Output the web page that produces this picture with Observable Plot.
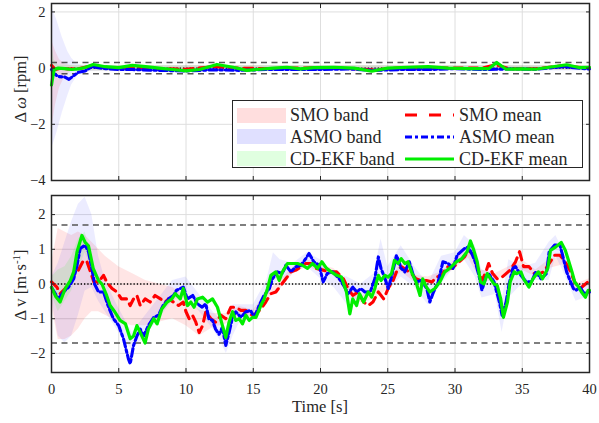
<!DOCTYPE html>
<html><head><meta charset="utf-8">
<script src="https://cdn.jsdelivr.net/npm/d3@7"></script>
<script src="https://cdn.jsdelivr.net/npm/@observablehq/plot@0.6"></script>
<style>
body{margin:0;background:#fff;}
#chart{position:relative;width:599px;height:423px;font-family:"Liberation Serif","Times New Roman","DejaVu Serif",serif;color:#262626;overflow:hidden;}
#chart svg{font-family:"Liberation Serif","Times New Roman","DejaVu Serif",serif !important;font-size:14.5px !important;}
#chart svg text{font-family:"Liberation Serif","Times New Roman","DejaVu Serif",serif !important;}
.pl{position:absolute;left:0;}
.axlab{position:absolute;white-space:nowrap;font-size:16.5px;line-height:18px;transform:translate(-50%,-50%);}
.axlab.rot{transform:translate(-50%,-50%) rotate(-90deg);}
.axlab sup{font-size:11px;vertical-align:6px;line-height:0;}
.legend{position:absolute;left:232px;top:100px;width:349px;height:66px;border:1.4px solid #262626;background:#fff;font-size:18px;}
.legend .it{position:absolute;white-space:nowrap;line-height:18px;}
.legend .sw{position:absolute;width:49px;height:15px;}
.legend svg{position:absolute;}
</style></head>
<body><div id="chart"></div>
<script>
// ---------- data ----------
const xTicks = [0,5,10,15,20,25,30,35,40];
const wTicks = [-4,-2,0,2];
const vTicks = [-2,-1,0,1,2];
const wThresh = [-0.2, 0.2];
const vThresh = [-1.7, 1.7];
const xLabel = "Time [s]";
const wLabel = {delta: "Δ ", sym: "ω", unit: " [rpm]"};
const vLabel = {delta: "Δ ", sym: "v", unit: " [m·s", sup: "-1", close: "]"};

// top panel: speed error (rpm)
const wSmoT = [0,0.3,0.7,1.2,2,3,4,6,8,10,12,14,16,18,20,22,24,26,28,30,32,33,34,36,38,40];
const wSmoV = [0.1,-0.05,0,-0.03,-0.02,0.08,0.02,0.02,-0.02,-0.04,0.05,0,-0.02,0,0.01,-0.01,-0.06,0.01,0.02,0,0,0.12,-0.02,-0.02,0.08,0];
const wAsmoT = [0,0.2,0.5,1.0,1.3,1.7,2.0,2.5,3,4,5,6,8,10,12,14,16,18,20,22,24,26,28,30,32,34,36,38,40];
const wAsmoV = [-0.05,-0.2,-0.3,-0.32,-0.4,-0.25,-0.15,-0.1,0.05,-0.02,-0.05,-0.05,-0.08,-0.1,-0.06,-0.08,-0.05,-0.05,-0.05,-0.03,-0.08,-0.05,-0.05,-0.02,-0.05,-0.03,-0.04,0.05,-0.03];
const wCdT = [0,0.1,0.2,0.5,1,1.5,2,2.5,3.1,4,5,6,7,8,9,10,11,12.3,13.5,14.5,15.5,16.5,17.5,18.5,19.5,21,22.5,23.8,25,26.5,28,29.5,31,32.5,33.1,33.8,35,36,37,38.3,39.2,40];
const wCdV = [-0.6,-0.3,-0.05,0,-0.02,-0.05,-0.03,0.02,0.13,0.05,0.02,0.1,0.05,0,-0.05,-0.1,-0.05,0.13,0.03,-0.08,-0.04,0,0.03,-0.03,0.02,0.03,0,-0.11,0,0.03,0.05,0,-0.02,-0.02,0.2,-0.04,-0.03,-0.04,0.03,0.12,0.02,0.03];
const wSmoBandT = [0,0.3,0.6,1.0,1.5,40];
const wSmoBandLo = [-2.2,-1.3,-0.7,-0.3,-0.1,-0.08];
const wSmoBandHi = [1.0,0.6,0.3,0.15,0.08,0.08];
const wAsmoBandT = [0,0.4,0.8,1.2,1.5,1.9,2.3,3,4,40];
const wAsmoBandLo = [-2.9,-2.3,-1.6,-1.0,-0.6,-0.3,-0.15,-0.12,-0.1,-0.1];
const wAsmoBandHi = [2.2,1.7,1.1,0.6,0.35,0.15,0.1,0.1,0.08,0.08];
const wCdBandT = [0,0.2,0.5,40];
const wCdBandLo = [-0.9,-0.3,-0.1,-0.08];
const wCdBandHi = [0.9,0.3,0.1,0.08];

// bottom panel: velocity error (m/s)
const vSmoT = [0,0.4,0.64,1.02,1.4,1.65,2.0,2.38,2.64,2.9,3.15,3.5,3.87,4.1,4.5,4.87,5.2,5.6,5.85,6.1,6.35,6.6,6.96,7.33,7.7,8.1,8.45,8.7,9.07,9.45,9.8,10.0,10.24,10.48,10.73,10.98,11.23,11.47,11.85,12.2,12.6,12.96,13.33,13.7,14.08,14.45,14.8,15.2,15.56,15.93,16.3,16.68,17.05,17.42,17.8,18.17,18.55,18.9,19.3,19.66,20.2,20.7,21.2,21.7,22.05,22.4,22.8,23.2,23.55,23.9,24.3,24.7,25.03,25.4,25.65,26.0,26.4,26.76,27.1,27.5,27.88,28.3,28.63,29.0,29.4,29.78,30.16,30.7,31.0,31.4,31.78,32.0,32.3,32.5,32.8,33.14,33.5,33.8,34.1,34.5,34.8,35.1,35.5,35.9,36.3,36.6,37.0,37.4,37.8,38.2,38.6,38.9,39.3,39.7,40];
const vSmoV = [0.06,-0.09,-0.28,-0.13,0.06,0.25,0.4,0.68,0.64,0.35,0.06,0.06,0.25,0.06,-0.13,-0.23,-0.43,-0.43,-0.62,-0.43,-0.33,-0.62,-0.43,-0.52,-0.33,-0.43,-0.52,-0.43,-0.52,-0.62,-0.52,-0.8,-1.0,-0.9,-1.1,-1.4,-1.2,-0.8,-1.0,-1.1,-0.9,-1.0,-0.67,-0.67,-0.76,-0.76,-0.9,-0.86,-0.72,-0.52,-0.28,-0.23,-0.04,0.15,0.35,0.4,0.5,0.59,0.59,0.45,0.4,0.35,0.35,0.15,-0.13,-0.33,-0.23,-0.52,-0.62,-0.52,-0.23,-0.43,-0.13,0.1,0.35,0.5,0.4,0.3,0.15,0.1,0.1,0.06,0.2,0.25,0.5,0.45,0.59,0.78,0.97,0.83,0.35,0.1,0.35,0.59,0.3,0.15,0.2,0.3,0.4,0.64,0.93,0.5,0.5,0.3,0.3,0.35,0.59,0.83,0.83,0.64,0.35,0.06,-0.13,0,0.1];
const vAsmoT = [0,0.52,0.9,1.27,1.65,1.9,2.13,2.5,2.75,3.0,3.2,3.5,3.87,4.2,4.6,5.0,5.35,5.72,5.85,6.1,6.35,6.6,6.84,7.2,7.6,7.95,8.3,8.7,9.07,9.3,9.57,9.8,10.1,10.5,10.85,11.2,11.47,11.7,11.97,12.2,12.46,12.7,12.96,13.2,13.46,13.7,14.08,14.45,14.8,15.07,15.44,15.8,16.2,16.43,16.8,17.17,17.42,17.8,18.17,18.55,18.9,19.15,19.5,19.9,20.2,20.5,20.9,21.4,21.8,22.05,22.4,22.7,23.0,23.3,23.7,24.04,24.3,24.5,24.8,25.03,25.28,25.65,26.0,26.27,26.6,26.9,27.1,27.5,27.9,28.13,28.4,28.75,29.1,29.5,29.85,30.16,30.7,31.0,31.3,31.5,31.78,32.0,32.3,32.5,32.9,33.3,33.5,33.8,34.0,34.3,34.5,34.9,35.3,35.7,36.0,36.4,36.8,37.0,37.4,37.8,38.0,38.3,38.5,38.8,39.0,39.3,39.6,39.8,40];
const vAsmoV = [-0.1,-0.43,-0.23,-0.09,0.15,0.54,1.02,1.12,0.93,0.45,0,-0.23,-0.23,-0.62,-1.0,-1.2,-1.58,-2.16,-2.3,-1.77,-1.5,-1.3,-1.5,-1.2,-0.96,-0.9,-0.62,-0.43,-0.33,-0.18,-0.13,-0.09,-0.43,-0.33,-0.57,-0.67,-0.57,-1.0,-1.05,-1.3,-1.45,-1.25,-1.77,-1.4,-0.96,-0.8,-0.96,-0.8,-0.76,-0.96,-0.62,-0.33,-0.13,0.15,0.35,0.3,0.54,0.35,0.5,0.54,0.73,0.88,0.64,0.54,0.06,0.3,0.35,0.15,-0.09,-0.28,-0.09,-0.23,-0.13,-0.23,-0.23,0.15,0.78,0.45,0.15,-0.13,0.2,0.83,0.45,0.35,0.64,0.25,0.06,0.1,-0.13,-0.52,-0.23,0.06,0.64,0.59,0.45,0.83,1.02,1.07,0.83,0.64,0.25,-0.18,0.2,0.3,0.06,-0.52,-0.9,-0.52,-0.04,0.45,0.5,0.25,0.06,0.06,0.35,0.15,0.3,0.93,1.12,1.12,0.83,0.35,0.15,-0.13,-0.18,-0.09,-0.28,-0.23,-0.23];
const vCdT = [0,0.3,0.64,1.02,1.4,1.65,1.9,2.26,2.5,2.75,3.1,3.5,3.75,4.1,4.36,4.7,5.1,5.5,5.85,6.1,6.35,6.6,6.96,7.2,7.6,7.85,8.2,8.6,8.95,9.2,9.57,9.8,10.11,10.36,10.6,10.85,11.23,11.6,11.97,12.34,12.71,12.96,13.2,13.46,13.7,13.95,14.2,14.45,14.7,14.95,15.2,15.56,15.81,16.06,16.31,16.68,16.93,17.17,17.54,17.92,18.29,18.66,19.03,19.4,19.78,20.1,20.45,20.8,21.2,21.56,21.93,22.18,22.4,22.68,22.9,23.2,23.55,23.8,24.04,24.3,24.5,24.8,25.03,25.28,25.5,25.77,26.0,26.27,26.5,26.76,27.1,27.4,27.6,27.88,28.13,28.5,28.87,29.24,29.6,30.1,30.5,30.9,31.15,31.4,31.65,31.9,32.15,32.4,32.65,32.9,33.14,33.4,33.6,33.9,34.1,34.4,34.6,34.9,35.1,35.5,35.8,36.2,36.5,36.9,37.1,37.5,37.9,38.2,38.4,38.7,38.9,39.2,39.4,39.7,39.9,40];
const vCdV = [-0.1,-0.35,-0.52,-0.13,0.1,0.35,0.93,1.4,1.2,1.1,0.45,0.1,0,-0.33,-0.62,-0.8,-1.05,-1.15,-1.58,-1.5,-1.2,-1.4,-1.7,-1.3,-1.0,-1.15,-0.72,-0.52,-0.43,-0.28,-0.43,-0.13,-0.62,-0.52,-0.67,-0.43,-0.38,-0.52,-0.43,-0.67,-1.2,-1.54,-1.1,-0.8,-1.05,-1.0,-1.15,-0.9,-1.05,-0.96,-0.96,-0.62,-0.43,-0.13,0.25,0.35,0.1,0.35,0.59,0.59,0.59,0.54,0.45,0.59,0.45,0.64,0.45,0.35,0.25,0.2,-0.23,-0.86,-0.43,-0.62,-0.28,-0.52,-0.23,-0.38,-0.13,0.25,0.1,0.25,0.2,0.3,0.68,0.59,0.73,0.59,0.64,0.35,0.06,-0.33,0.15,-0.09,-0.23,-0.13,0.06,0.35,0.45,0.64,0.73,0.93,1.24,0.97,0.64,0.06,0,0.3,0.15,0,-0.04,-0.43,-0.96,-0.52,0.06,0.35,0.3,0.35,0.15,-0.09,0.15,0.35,0.15,0.45,0.97,1.07,1.2,0.97,0.73,0.35,0.06,-0.09,-0.23,-0.38,-0.18,-0.18];
const vSmoBandT = [0,0.5,1,1.5,2,2.5,3,3.5,4,5,6,7,8,9,10,11,12,13,14,15,16,17,18,19,20,21,22,23,24,25,26,27,28,29,30,31,32,33,34,35,36,37,38,39,40];
const vSmoBandLo = [-0.6,-1.6,-1.6,-1.5,-1.3,-1.0,-0.8,-0.8,-0.9,-1.1,-1.2,-1.2,-1.1,-1.0,-1.2,-1.5,-1.25,-1.15,-0.9,-0.95,-0.45,-0.15,0.3,0.5,0.35,0.25,-0.25,-0.55,-0.45,-0.15,0.35,0.05,0,0.15,0.45,0.75,0.05,0.1,0.3,0.4,0.2,0.45,0.55,-0.2,-0.05];
const vSmoBandHi = [0.6,1.6,1.5,1.4,1.5,1.4,1.2,1.0,0.8,0.5,0.3,0.1,0,-0.1,-0.35,-0.75,-0.85,-0.85,-0.65,-0.75,-0.25,0.1,0.5,0.7,0.55,0.45,0,-0.35,-0.2,0.05,0.6,0.25,0.2,0.35,0.7,1.05,0.4,0.3,0.5,0.7,0.4,0.7,0.8,0,0.15];
const vAsmoBandT = [0,0.5,1,1.5,2,2.5,3,3.5,4,5,6,7,8,9,10,11,12,12.5,13,13.5,14,15,16,16.5,17,18,19,20,21,22,23,24,24.5,25,26,27,28,29,30,30.7,31.5,32,33,33.5,34,35,36,37,37.5,38,39,40];
const vAsmoBandLo = [-0.4,-1.5,-1.7,-1.5,-0.9,-0.2,-0.1,-0.5,-0.8,-1.4,-1.9,-1.5,-1.0,-0.5,-0.3,-0.8,-1.3,-1.6,-2.0,-1.5,-1.1,-1.0,-0.45,0,0.1,0.3,0.5,0.15,-0.1,-0.6,-0.4,-0.2,0.3,-0.2,0.2,-0.1,-0.6,0,0.5,0.7,0.2,-0.4,-0.3,-1.4,-0.4,0,0.1,0.1,0.8,0.4,-0.5,-0.35];
const vAsmoBandHi = [0.2,0.6,1.2,1.8,2.3,2.5,2.0,0.8,0.1,-0.7,-1.4,-0.9,-0.4,0.1,0.2,-0.3,-0.8,-1.0,-1.3,-0.6,-0.6,-0.6,0.1,0.9,0.7,0.6,0.9,0.7,0.3,0.2,0,0.3,1.3,0.5,1.1,0.5,0,0.8,0.9,1.4,1.1,0.4,0.3,-0.5,0.7,0.5,0.6,1.2,1.4,1.0,0,-0.05];
const vCdBandT = [0,0.5,1,1.5,2,2.5,3];
const vCdBandLo = [-0.3,-0.8,-0.5,-0.2,0.4,0.9,0.4];
const vCdBandHi = [0.2,0.4,0.5,0.8,1.3,1.5,0.8];

// ---------- helpers ----------
const rows = (t, v) => t.map((d, i) => ({t: d, v: v[i]}));
const band = (t, lo, hi) => t.map((d, i) => ({t: d, lo: lo[i], hi: hi[i]}));
const RED = "#ff0000", BLUE = "#0000ff", GREEN = "#00ee00";
const FRAME = "#262626", GRID = "#dedede";
const SERIF = '"Liberation Serif","Times New Roman","DejaVu Serif",serif';
const font = {fontFamily: SERIF, fontSize: "14.5px", color: "#262626", background: "transparent", overflow: "visible"};

function panel({height, mt, mb, yDomain, yTicks, thresh, data, showX}) {
  const marks = [
    Plot.gridX(xTicks, {stroke: GRID, strokeOpacity: 1}),
    Plot.gridY(yTicks, {stroke: GRID, strokeOpacity: 1}),
    Plot.areaY(data.smoBand, {x: "t", y1: "lo", y2: "hi", fill: RED, fillOpacity: 0.1, curve: "linear"}),
    Plot.areaY(data.asmoBand, {x: "t", y1: "lo", y2: "hi", fill: BLUE, fillOpacity: 0.075, curve: "linear"}),
    Plot.areaY(data.cdBand, {x: "t", y1: "lo", y2: "hi", fill: "#00ff00", fillOpacity: 0.1, curve: "linear"}),
    Plot.ruleY(thresh, {stroke: "#555", strokeWidth: 1.4, strokeDasharray: "6,4.5"}),
    Plot.ruleY([0], {stroke: "#000", strokeWidth: 1.3, strokeDasharray: "1.3,2"}),
    Plot.line(data.smo, {x: "t", y: "v", stroke: RED, strokeWidth: 3.1, strokeDasharray: "9,6"}),
    Plot.line(data.asmo, {x: "t", y: "v", stroke: BLUE, strokeWidth: 3.1, strokeDasharray: "8,3,2.5,3"}),
    Plot.line(data.cd, {x: "t", y: "v", stroke: GREEN, strokeWidth: 3.2}),
    Plot.frame({stroke: FRAME, strokeWidth: 1.5}),
    Plot.axisY(yTicks, {anchor: "left", tickSize: -4, tickPadding: 10, stroke: FRAME, fill: "#262626", label: null}),
    Plot.axisY(yTicks, {anchor: "right", tickSize: -4, tickFormat: () => "", stroke: FRAME, label: null}),
    Plot.axisX(xTicks, {anchor: "top", tickSize: -4, tickFormat: () => "", stroke: FRAME, label: null}),
    showX
      ? Plot.axisX(xTicks, {anchor: "bottom", tickSize: -4, tickPadding: 15, stroke: FRAME, fill: "#262626", label: null})
      : Plot.axisX(xTicks, {anchor: "bottom", tickSize: -4, tickFormat: () => "", stroke: FRAME, label: null})
  ];
  const svg = Plot.plot({
    width: 599, height, marginLeft: 51, marginRight: 10, marginTop: mt, marginBottom: mb,
    style: font,
    x: {domain: [0, 40]},
    y: {domain: yDomain},
    marks
  });
  svg.setAttribute("font-family", SERIF);
  svg.setAttribute("font-size", "14.5");
  return svg;
}

const topPlot = panel({
  height: 186, mt: 3, mb: 6, yDomain: [-4, 2.3], yTicks: wTicks, thresh: wThresh, showX: false,
  data: {
    smo: rows(wSmoT, wSmoV), asmo: rows(wAsmoT, wAsmoV), cd: rows(wCdT, wCdV),
    smoBand: band(wSmoBandT, wSmoBandLo, wSmoBandHi),
    asmoBand: band(wAsmoBandT, wAsmoBandLo, wAsmoBandHi),
    cdBand: band(wCdBandT, wCdBandLo, wCdBandHi)
  }
});
const bottomPlot = panel({
  height: 233, mt: 5, mb: 51, yDomain: [-2.55, 2.55], yTicks: vTicks, thresh: vThresh, showX: true,
  data: {
    smo: rows(vSmoT, vSmoV), asmo: rows(vAsmoT, vAsmoV), cd: rows(vCdT, vCdV),
    smoBand: band(vSmoBandT, vSmoBandLo, vSmoBandHi),
    asmoBand: band(vAsmoBandT, vAsmoBandLo, vAsmoBandHi),
    cdBand: band(vCdBandT, vCdBandLo, vCdBandHi)
  }
});

const chart = document.getElementById("chart");
const d1 = document.createElement("div"); d1.className = "pl"; d1.style.top = "0px"; d1.appendChild(topPlot);
const d2 = document.createElement("div"); d2.className = "pl"; d2.style.top = "190px"; d2.appendChild(bottomPlot);
chart.appendChild(d1); chart.appendChild(d2);

// axis titles
function addLabel(parts, x, y, rot) {
  const el = document.createElement("div");
  el.className = "axlab" + (rot ? " rot" : "");
  el.style.left = x + "px"; el.style.top = y + "px";
  parts.forEach(p => {
    const s = document.createElement(p.tag || "span");
    if (p.italic) s.style.fontStyle = "italic";
    s.textContent = p.text;
    el.appendChild(s);
  });
  chart.appendChild(el);
}
addLabel([{text: wLabel.delta}, {text: wLabel.sym, italic: true}, {text: wLabel.unit}], 21, 89, true);
addLabel([{text: vLabel.delta}, {text: vLabel.sym}, {text: vLabel.unit}, {text: vLabel.sup, tag: "sup"}, {text: vLabel.close}], 21, 285, true);
addLabel([{text: xLabel}], 320, 407, false);

// legend
const legendItems = [
  {label: "SMO band", kind: "patch", color: "rgba(255,0,0,0.13)"},
  {label: "SMO mean", kind: "line", color: RED, dash: "12,12"},
  {label: "ASMO band", kind: "patch", color: "rgba(0,0,255,0.12)"},
  {label: "ASMO mean", kind: "line", color: BLUE, dash: "7,3,3,3"},
  {label: "CD-EKF band", kind: "patch", color: "rgba(0,255,0,0.12)"},
  {label: "CD-EKF mean", kind: "line", color: GREEN, dash: null}
];
const lg = document.createElement("div"); lg.className = "legend";
const rowY = [14, 35.5, 57.5];
legendItems.forEach((it, i) => {
  const r = Math.floor(i / 2), c = i % 2;
  const cy = rowY[r];
  if (it.kind === "patch") {
    const sw = document.createElement("div"); sw.className = "sw";
    sw.style.left = "4px"; sw.style.top = (cy - 7.5) + "px"; sw.style.background = it.color;
    lg.appendChild(sw);
  } else {
    const ns = "http://www.w3.org/2000/svg";
    const s = document.createElementNS(ns, "svg");
    s.setAttribute("width", 49); s.setAttribute("height", 6);
    s.style.left = "172px"; s.style.top = (cy - 3) + "px";
    const ln = document.createElementNS(ns, "line");
    ln.setAttribute("x1", 0); ln.setAttribute("x2", 49); ln.setAttribute("y1", 3); ln.setAttribute("y2", 3);
    ln.setAttribute("stroke", it.color); ln.setAttribute("stroke-width", 3);
    if (it.dash) ln.setAttribute("stroke-dasharray", it.dash);
    s.appendChild(ln); lg.appendChild(s);
  }
  const tx = document.createElement("div"); tx.className = "it";
  tx.textContent = it.label;
  tx.style.left = (c === 0 ? 57 : 226) + "px"; tx.style.top = (cy - 9) + "px";
  lg.appendChild(tx);
});
chart.appendChild(lg);
</script></body></html>
